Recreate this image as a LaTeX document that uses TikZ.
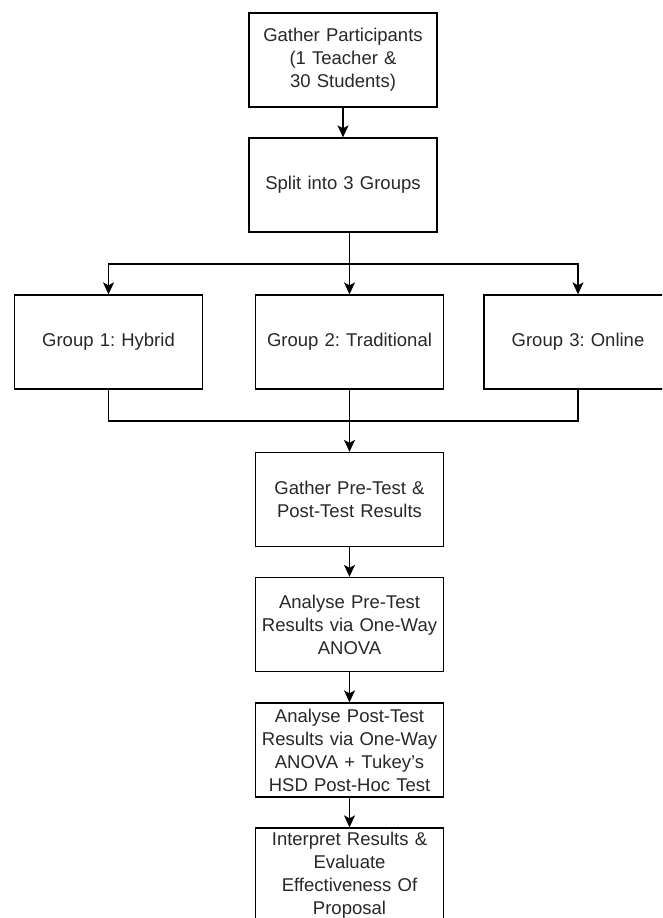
\documentclass[tikz,border=0pt]{standalone}
\usepackage{fontspec}
\setmainfont{Liberation Sans}
\usepackage{tikz}
\usetikzlibrary{arrows.meta,positioning,calc}
\usepackage{xcolor}
\definecolor{boxtext}{RGB}{40,40,40}
\frenchspacing

\begin{document}
\begin{tikzpicture}[x=1pt, y=-1pt,
    flowbox/.style={rectangle, draw=black, line width=1.3pt, fill=white,
        minimum width=188pt, minimum height=94pt, text width=184pt, align=center,
        font=\fontsize{18.5}{23}\selectfont, text=boxtext, inner sep=0pt},
    arr/.style={-{Stealth[length=12pt, width=11pt, inset=3pt]}, line width=1.3pt, black},
    link/.style={line width=1.3pt, black}
]
    \clip (0,0) rectangle (662,918);
    \fill[white] (0,0) rectangle (662,918);

    \node[flowbox] (gather) at (343,60) {Gather Participants\\(1 Teacher \&\\30 Students)};
    \node[flowbox] (split) at (343,185) {Split into 3 Groups};
    \node[flowbox] (g1) at (108.5,342) {Group 1: Hybrid};
    \node[flowbox] (g2) at (349.5,342) {Group 2: Traditional};
    \node[flowbox] (g3) at (578,342) {Group 3: Online};
    \node[flowbox] (results) at (349.5,499.5) {Gather Pre-Test \&\\Post-Test Results};
    \node[flowbox] (anpre) at (349.5,624.5) {Analyse Pre-Test\\Results via One-Way\\ANOVA};
    \node[flowbox] (anpost) at (349.5,750) {Analyse Post-Test\\Results via One-Way\\ANOVA + Tukey's\\HSD Post-Hoc Test};
    \node[flowbox] (interp) at (349.5,875) {Interpret Results \&\\Evaluate\\Effectiveness Of\\Proposal};

    \coordinate (fork) at (349.5,264);
    \coordinate (join) at (349.5,421);

    \draw[arr] (gather) -- (split);
    \draw[link] (split.south -| g2.north) -- (fork);
    \draw[arr] (fork) -- (g2.north);
    \draw[arr] (fork) -| (g1.north);
    \draw[arr] (fork) -| (g3.north);

    \draw[link] (g1.south) |- (join);
    \draw[link] (g3.south) |- (join);
    \draw[arr] (g2.south) -- (results.north);

    \draw[arr] (results) -- (anpre);
    \draw[arr] (anpre) -- (anpost);
    \draw[arr] (anpost) -- (interp);
\end{tikzpicture}
\end{document}
